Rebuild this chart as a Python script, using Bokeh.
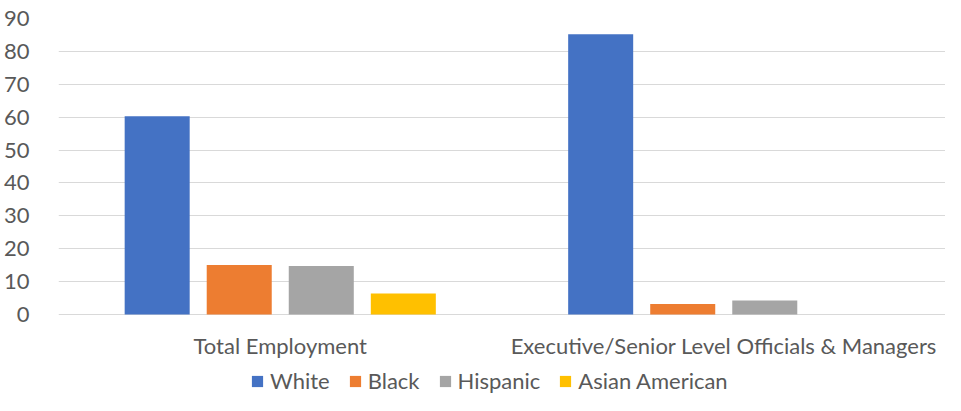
from bokeh.plotting import figure
from bokeh.models import FactorRange, ColumnDataSource, Legend, LegendItem, FixedTicker
from bokeh.core.properties import value
from bokeh.transform import dodge
from bokeh.embed import file_html
from bokeh.resources import INLINE

categories = ["Total Employment", "Executive/Senior Level Officials & Managers"]
series = ["White", "Black", "Hispanic", "Asian American"]
white = [60.3, 85.2]
black = [15.1, 3.2]
hispanic = [14.8, 4.3]
asian_american = [6.4, 0.0]
y_ticks = [0, 10, 20, 30, 40, 50, 60, 70, 80, 90]
colors = ["#4472C4", "#ED7D31", "#A5A5A5", "#FFC000"]

src = ColumnDataSource(dict(cat=categories, White=white, Black=black,
                            Hispanic=hispanic, Asian=asian_american))
cols = ["White", "Black", "Hispanic", "Asian"]

FONT = "Lato"
TXT = "#595959"
FS = "22px"

# y range extends below 0 so the category labels and the legend sit inside the frame
p = figure(x_range=FactorRange(*categories, range_padding=0), y_range=(-24.6, 90),
           width=945, height=395, output_backend="svg", toolbar_location=None,
           x_axis_location=None,
           min_border_left=58, min_border_right=0, min_border_top=18, min_border_bottom=0)
p.outline_line_color = None

offsets = [-0.2775, -0.0925, 0.0925, 0.2775]
items = []
for col, name, c, off in zip(cols, series, colors, offsets):
    r = p.vbar(x=dodge("cat", off, range=p.x_range), top=col, width=0.1466,
               source=src, fill_color=c, line_color=None)
    items.append(LegendItem(label=name, renderers=[r]))

# category labels under the baseline
p.text(x="cat", y=-9.4, text="cat", source=src, text_align="center",
       text_baseline="middle", text_font=value(FONT), text_font_size=value(FS),
       text_color=TXT)

p.yaxis.ticker = FixedTicker(ticks=y_ticks)
p.ygrid.grid_line_color = "#d9d9d9"
p.ygrid.grid_line_width = 1
p.xgrid.grid_line_color = None

p.yaxis.major_tick_line_color = None
p.yaxis.minor_tick_line_color = None
p.yaxis.major_label_text_font = FONT
p.yaxis.major_label_text_color = TXT
p.yaxis.major_label_text_font_size = FS
p.yaxis.axis_line_color = None
p.yaxis.major_label_standoff = 23

legend = Legend(items=items, orientation="horizontal", location=(192, 1),
                label_text_font=FONT, label_text_color=TXT, label_text_font_size=FS,
                glyph_width=14, glyph_height=14, label_standoff=6, spacing=18,
                border_line_color=None, background_fill_alpha=0, padding=0, margin=0)
p.add_layout(legend, "center")

open("out.html", "w").write(file_html(p, INLINE))
